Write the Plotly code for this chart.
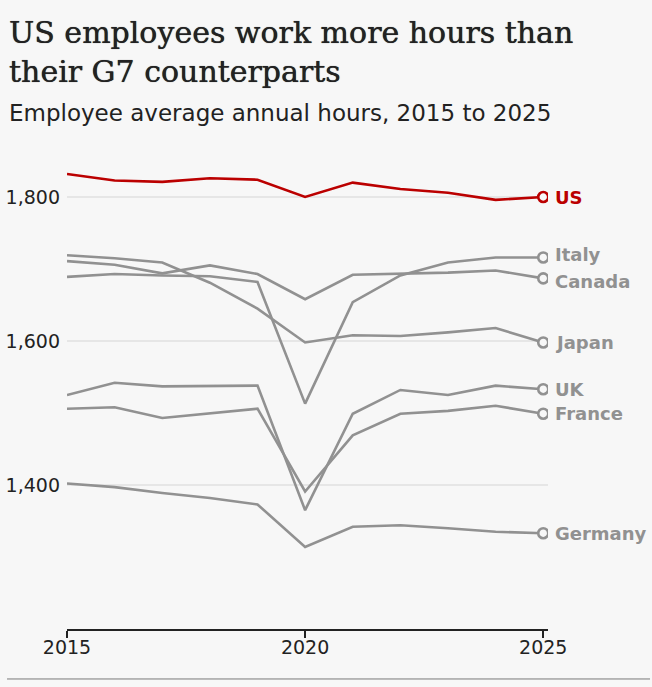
import plotly.graph_objects as go

# Employee average annual hours
years = list(range(2015, 2026))
us = [1832, 1823, 1821, 1826, 1824, 1800, 1820, 1811, 1806, 1796, 1800]
italy = [1689, 1693, 1691, 1690, 1682, 1513, 1654, 1691, 1709, 1716, 1716]
canada = [1711, 1706, 1694, 1705, 1693, 1658, 1692, 1693, 1695, 1698, 1687]
japan = [1719, 1715, 1709, 1681, 1645, 1598, 1608, 1607, 1612, 1618, 1598]
uk = [1525, 1542, 1537, 1537, 1538, 1365, 1499, 1532, 1525, 1538, 1533]
france = [1506, 1508, 1493, 1500, 1506, 1391, 1469, 1499, 1503, 1510, 1499]
germany = [1402, 1397, 1389, 1382, 1373, 1314, 1342, 1344, 1340, 1335, 1333]

countries = ["US", "Italy", "Canada", "Japan", "UK", "France", "Germany"]
series = [us, italy, canada, japan, uk, france, germany]
label_shift = [0, 3, -3, 0, 0, 0, 0]

RED = "#bb0000"
GREY = "#919191"
BG = "#f7f7f7"
SANS = "DejaVu Sans"
SERIF = "DejaVu Serif"

fig = go.Figure()

# grey lines first, US on top
order = [1, 2, 3, 4, 5, 6, 0]
for i in order:
    col = RED if countries[i] == "US" else GREY
    fig.add_trace(go.Scatter(
        x=years, y=series[i], mode="lines", line=dict(color=col, width=2.6),
        hoverinfo="skip", showlegend=False))
    fig.add_trace(go.Scatter(
        x=[years[-1]], y=[series[i][-1]], mode="markers",
        marker=dict(size=10, color=BG, line=dict(color=col, width=2.6)),
        hoverinfo="skip", showlegend=False))
    fig.add_annotation(
        x=years[-1], y=series[i][-1], text="<b>%s</b>" % countries[i],
        showarrow=False, xanchor="left", xshift=10, yshift=label_shift[i],
        font=dict(family=SANS, size=18, color=col))

# title and subtitle (slight shadow to get a medium weight)
fig.add_annotation(
    xref="paper", yref="paper", x=-0.1247, y=1.2329, xanchor="left", yanchor="middle",
    text="US employees work more hours than<br>their G7 counterparts", showarrow=False,
    align="left", font=dict(family=SERIF, size=30, color="#222222",
                            shadow="0px 0px 0.7px #222222"))
fig.add_annotation(
    xref="paper", yref="paper", x=-0.1247, y=1.1026, xanchor="left", yanchor="middle",
    text="Employee average annual hours, 2015 to 2025", showarrow=False,
    align="left", font=dict(family=SANS, size=23, color="#222222"))

# rule at the bottom
fig.add_shape(type="line", xref="paper", yref="paper", x0=-0.1247, x1=1.2121,
              y0=-0.1068, y1=-0.1068, line=dict(color="#7a7a7a", width=1))

fig.update_xaxes(
    range=[2015, 2025.1], tickvals=[2015, 2020, 2025], showgrid=False,
    showline=True, linecolor="#222222", linewidth=2, ticks="outside",
    ticklen=7, tickwidth=1.5, tickcolor="#222222", zeroline=False,
    automargin=False, ticklabelstandoff=-7,
    tickfont=dict(family=SANS, size=19, color="#222222"))
fig.update_yaxes(
    range=[1200, 1850], tickvals=[1400, 1600, 1800], tickformat=",",
    showgrid=True, gridcolor="#e6e6e6", gridwidth=1.5, showline=False,
    zeroline=False, ticks="", ticklabelstandoff=6, automargin=False,
    tickfont=dict(family=SANS, size=19, color="#222222"))

fig.update_layout(
    width=652, height=687, paper_bgcolor=BG, plot_bgcolor=BG,
    margin=dict(l=67, r=104, t=161, b=58))

fig.write_html("out.html", config={"displayModeBar": False},
               post_script="document.body.style.margin='0px';")
